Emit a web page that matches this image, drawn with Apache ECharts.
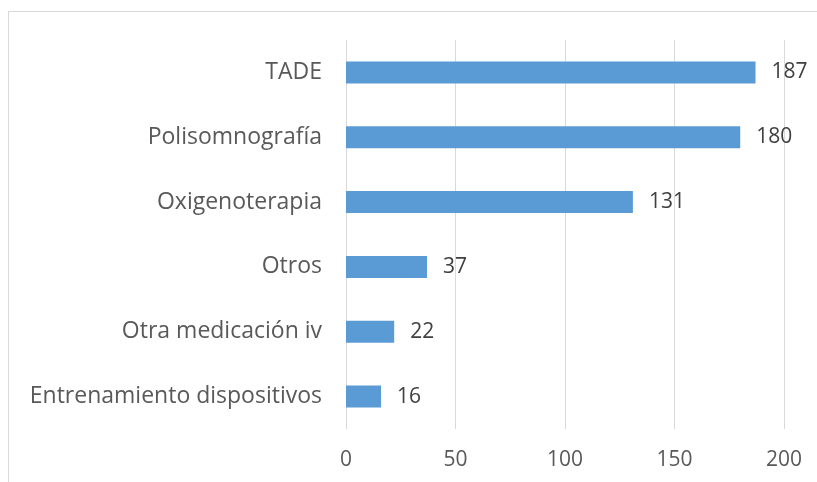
<!DOCTYPE html>
<html>
<head>
<meta charset="utf-8">
<style>html,body{margin:0;padding:0;background:#fff;}#c{width:817px;height:482px;}</style>
<script src="https://cdn.jsdelivr.net/npm/echarts@6/dist/echarts.min.js"></script>
</head>
<body>
<div id="c"></div>
<script>
const categories = ["Entrenamiento dispositivos", "Otra medicación iv", "Otros", "Oxigenoterapia", "Polisomnografía", "TADE"];
const values = [16, 22, 37, 131, 180, 187];
const xTicks = [0, 50, 100, 150, 200];

const chart = echarts.init(document.getElementById('c'), null, {renderer: 'canvas'});
chart.setOption({
  animation: false,
  backgroundColor: '#fff',
  graphic: [{
    type: 'rect',
    shape: {x: 8.5, y: 11.5, width: 1000, height: 1000},
    style: {fill: 'none', stroke: '#d9d9d9', lineWidth: 1},
    silent: true
  }],
  grid: {left: 346, right: 33, top: 40, bottom: 53},
  xAxis: {
    type: 'value',
    min: xTicks[0],
    max: xTicks[xTicks.length - 1],
    interval: 50,
    axisLine: {show: false},
    axisTick: {show: false},
    splitLine: {show: true, lineStyle: {color: '#d9d9d9', width: 1}},
    axisLabel: {color: '#595959', fontFamily: 'Open Sans', fontSize: 21, margin: 21}
  },
  yAxis: {
    type: 'category',
    data: categories,
    axisLine: {show: false},
    axisTick: {show: false},
    axisLabel: {color: '#595959', fontFamily: 'Open Sans', fontSize: 23, margin: 24}
  },
  series: [{
    type: 'bar',
    data: values,
    barWidth: 22,
    itemStyle: {color: '#5b9bd5'},
    label: {show: true, position: 'right', distance: 16, color: '#404040', fontFamily: 'Open Sans', fontSize: 21}
  }]
});
</script>
</body>
</html>
